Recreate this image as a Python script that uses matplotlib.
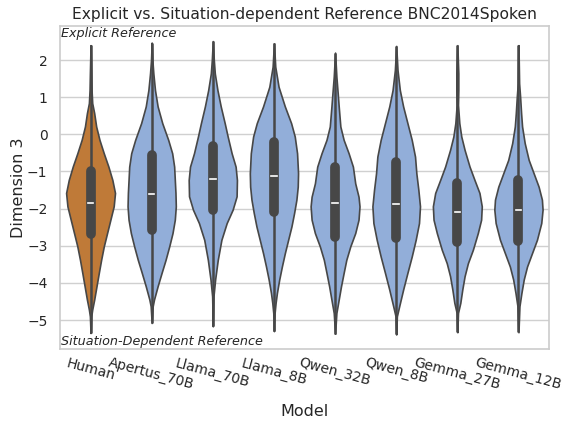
import numpy as np
import matplotlib
matplotlib.use("Agg")
from matplotlib import pyplot as plt


models = ["Human", "Apertus_70B", "Llama_70B", "Llama_8B",
          "Qwen_32B", "Qwen_8B", "Gemma_27B", "Gemma_12B"]

# box stats: whisker low, q1, median, q3, whisker high
whisk_lo = [-5.35, -5.08, -5.17, -5.30, -5.37, -5.39, -5.33, -5.33]
q1 = [-2.69, -2.57, -2.05, -2.10, -2.77, -2.80, -2.89, -2.86]
medians = [-1.84, -1.61, -1.21, -1.12, -1.86, -1.87, -2.08, -2.05]
q3 = [-1.00, -0.55, -0.31, -0.22, -0.87, -0.74, -1.32, -1.23]
whisk_hi = [2.40, 2.47, 2.51, 2.45, 2.20, 2.38, 2.40, 2.40]

# violin outlines: levels (Dimension 3) and half widths (relative, 74 = widest)
prof_y = {
    "Human": [2.40, 1.64, 1.19, 0.84, 0.57, 0.21, -0.15, -0.51, -0.87, -1.23, -1.58,
              -1.94, -2.30, -2.66, -3.02, -3.38, -3.73, -4.09, -4.45, -4.72, -4.90, -5.35],
    "Apertus_70B": [2.47, 2.00, 1.64, 1.19, 0.75, 0.30, -0.15, -0.51, -0.87, -1.23, -1.58,
                    -1.94, -2.30, -2.66, -3.02, -3.38, -3.73, -4.09, -4.45, -4.63, -5.08],
    "Llama_70B": [2.51, 2.00, 1.64, 1.19, 0.75, 0.30, -0.06, -0.51, -0.87, -1.23, -1.67,
                  -2.03, -2.39, -2.84, -3.38, -3.91, -4.36, -5.17],
    "Llama_8B": [2.45, 1.82, 1.28, 0.75, 0.30, -0.06, -0.51, -1.05, -1.41, -1.76, -2.12,
                 -2.48, -2.84, -3.20, -3.56, -3.91, -4.27, -4.54, -4.81, -5.30],
    "Qwen_32B": [2.20, 1.55, 1.10, 0.75, 0.21, -0.15, -0.51, -0.87, -1.32, -1.68, -1.94,
                 -2.30, -2.66, -3.02, -3.38, -3.73, -4.09, -4.45, -4.81, -5.37],
    "Qwen_8B": [2.38, 1.73, 1.19, 0.75, 0.30, -0.15, -0.60, -1.05, -1.49, -1.94, -2.39,
                -2.84, -3.29, -3.73, -4.18, -4.63, -4.90, -5.39],
    "Gemma_27B": [2.40, 1.64, 1.19, 0.79, 0.30, -0.06, -0.42, -0.87, -1.23, -1.58, -1.94,
                  -2.30, -2.66, -3.11, -3.47, -3.82, -4.18, -4.54, -4.81, -5.33],
    "Gemma_12B": [2.40, 1.37, 1.01, 0.57, 0.21, -0.24, -0.69, -1.05, -1.41, -1.76, -2.03,
                  -2.39, -2.84, -3.20, -3.56, -3.91, -4.27, -4.63, -5.33],
}
prof_w = {
    "Human": [0, 2, 3, 5, 11, 17, 27, 40, 54, 66, 74,
              70, 60, 50, 40, 32, 25, 18, 11, 5, 2, 0],
    "Apertus_70B": [0, 2, 5, 10, 18, 32, 50, 62, 68, 70, 72,
                    73, 70, 63, 53, 42, 30, 18, 7, 3, 0],
    "Llama_70B": [0, 3, 6, 14, 24, 36, 45, 57, 69, 73, 72,
                  60, 42, 26, 15, 7, 2, 0],
    "Llama_8B": [0, 4, 14, 33, 52, 63, 70, 73, 72, 68, 61,
                 53, 43, 33, 24, 16, 9, 5, 2, 0],
    "Qwen_32B": [0, 4, 8, 11, 16, 26, 41, 54, 61, 71, 74,
                 71, 61, 46, 34, 26, 18, 11, 4, 0],
    "Qwen_8B": [0, 4, 11, 21, 34, 47, 57, 61, 67, 72, 69,
                59, 47, 34, 21, 9, 2, 0],
    "Gemma_27B": [0, 3, 3, 2, 6, 12, 22, 37, 52, 67, 74,
                  72, 62, 47, 32, 22, 15, 9, 2, 0],
    "Gemma_12B": [0, 2, 5, 8, 11, 19, 31, 46, 61, 71, 73,
                  69, 56, 41, 26, 16, 9, 3, 0],
}

human_color = "#bf7a38"
model_color = "#92aed9"
line_color = "#474747"
text_color = "#262626"

plt.rcParams["font.family"] = ["DejaVu Sans"]
fig, ax = plt.subplots(figsize=(5.66, 4.23), dpi=100)
fig.subplots_adjust(left=0.106, right=0.970, top=0.938, bottom=0.175)

for i, m in enumerate(models):
    ys = np.array(prof_y[m])
    hw = np.array(prof_w[m]) / 74.0 * 0.4
    col = human_color if m == "Human" else model_color
    ax.fill_betweenx(ys, i - hw, i + hw, facecolor=col, edgecolor=line_color,
                     linewidth=1.2, zorder=2)
    ax.plot([i, i], [whisk_lo[i], whisk_hi[i]], color=line_color, lw=1.8,
            solid_capstyle="butt", zorder=3)
    ax.plot([i, i], [q1[i], q3[i]], color=line_color, lw=7,
            solid_capstyle="round", zorder=3)
    ax.plot([i - 0.045, i + 0.045], [medians[i], medians[i]], color="white",
            lw=1.2, zorder=4)

ax.set_xlim(-0.5, len(models) - 0.5)
ax.set_ylim(-5.78, 2.91)
ax.set_yticks(range(-5, 3))
ax.set_xticks(range(len(models)))
ax.set_xticklabels(models, rotation=-15, ha="center")
ax.tick_params(axis="both", labelsize=10, length=0, colors=text_color)
ax.tick_params(axis="y", pad=9)
ax.tick_params(axis="x", pad=5)
ax.yaxis.grid(True, color="#d0d0d0", lw=1.0, zorder=0)
ax.set_axisbelow(True)
for s in ax.spines.values():
    s.set_color("#cccccc")
    s.set_linewidth(1.2)

ax.set_title("Explicit vs. Situation-dependent Reference BNC2014Spoken",
             fontsize=11.2, color=text_color, pad=5)
ax.set_xlabel("Model", fontsize=11.5, color=text_color, labelpad=8)
ax.set_ylabel("Dimension 3", fontsize=11.5, color=text_color, labelpad=1)

ax.text(0.003, 0.997, "Explicit Reference", transform=ax.transAxes,
        fontsize=9.2, style="italic", va="top", ha="left", color=text_color)
ax.text(0.003, 0.003, "Situation-Dependent Reference", transform=ax.transAxes,
        fontsize=9.2, style="italic", va="bottom", ha="left", color=text_color)

fig.savefig("out.png", dpi=100)
